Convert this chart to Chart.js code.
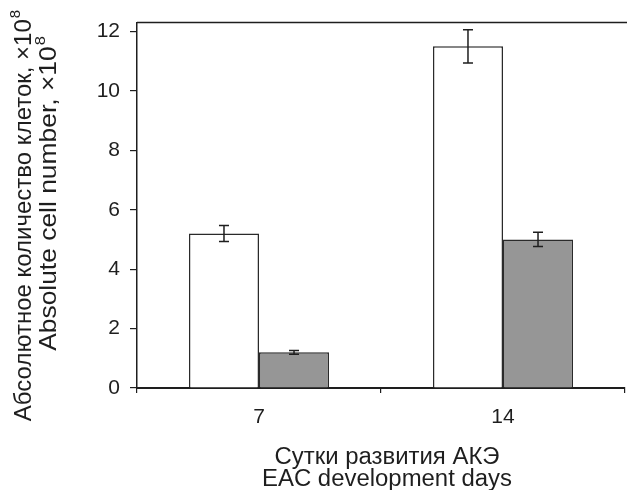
<!DOCTYPE html>
<html>
<head>
<meta charset="utf-8">
<script src="https://cdn.jsdelivr.net/npm/chart.js@4.4.1/dist/chart.umd.min.js"></script>
<style>
  html, body { margin: 0; padding: 0; background: #fff; }
  #wrap { width: 627px; height: 490px; }
</style>
</head>
<body>
<div id="wrap"><canvas id="bar-chart" width="627" height="490"></canvas></div>
<script>
const days = ['7', '14'];
const whiteValues = [5.2, 11.5];
const whiteErrors = [0.27, 0.56];
const grayValues = [1.2, 5.0];
const grayErrors = [0.06, 0.24];
const yTicks = [0, 2, 4, 6, 8, 10, 12];

const ctx = document.getElementById('bar-chart');
const FONT = '"Liberation Sans", Arial, sans-serif';
const INK = '#1e1e1e';

// text with a raised exponent, centred on (0,0) of the current transform
function drawWithExp(c, base, exp, size) {
    c.font = size + 'px ' + FONT;
    const wb = c.measureText(base).width;
    c.font = Math.round(size * 0.62) + 'px ' + FONT;
    const we = c.measureText(exp).width;
    const x0 = -(wb + we) / 2;
    c.textAlign = 'left';
    c.font = size + 'px ' + FONT;
    c.fillText(base, x0, 0);
    c.font = Math.round(size * 0.62) + 'px ' + FONT;
    c.fillText(exp, x0 + wb + 1, -size * 0.36);
}

// error bars + top frame line + the two-line axis titles
const extras = {
    id: 'extras',
    afterDatasetsDraw(chart) {
        const c = chart.ctx;
        const y = chart.scales.y;
        c.save();
        c.strokeStyle = INK;
        c.lineWidth = 1.5;
        chart.data.datasets.forEach((ds, i) => {
            chart.getDatasetMeta(i).data.forEach((bar, j) => {
                const v = ds.data[j];
                const e = ds.errors[j];
                const top = y.getPixelForValue(v + e);
                const bot = y.getPixelForValue(v - e);
                c.beginPath();
                c.moveTo(bar.x, top); c.lineTo(bar.x, bot);
                c.moveTo(bar.x - 5, top); c.lineTo(bar.x + 5, top);
                c.moveTo(bar.x - 5, bot); c.lineTo(bar.x + 5, bot);
                c.stroke();
            });
        });
        c.restore();
    },
    afterDraw(chart) {
        const c = chart.ctx;
        const area = chart.chartArea;
        c.save();
        c.strokeStyle = INK;
        c.lineWidth = 1.5;
        c.beginPath();
        c.moveTo(area.left, area.top);
        c.lineTo(chart.width, area.top);
        c.stroke();

        c.fillStyle = INK;
        c.textBaseline = 'middle';

        // y title, rotated
        const yLines = [
            { text: 'Абсолютное количество клеток, ×10', x: 24, y: 216, sx: 1.0 },
            { text: 'Absolute cell number, ×10', x: 49, y: 194, sx: 1.1 }
        ];
        yLines.forEach(l => {
            c.save();
            c.translate(l.x, l.y);
            c.rotate(-Math.PI / 2);
            c.scale(l.sx, 1);
            drawWithExp(c, l.text, '8', 24);
            c.restore();
        });

        // x title
        c.textAlign = 'center';
        c.font = '23px ' + FONT;
        const xLines = [
            { text: 'Сутки развития АКЭ', x: 387, y: 458, len: 225 },
            { text: 'EAC development days', x: 387, y: 480, len: 250 }
        ];
        xLines.forEach(l => {
            const w = c.measureText(l.text).width;
            c.save();
            c.translate(l.x, l.y);
            c.scale(l.len / w, 1);
            c.fillText(l.text, 0, 0);
            c.restore();
        });
        c.restore();
    }
};

new Chart(ctx, {
    type: 'bar',
    data: {
        labels: days,
        datasets: [{
            data: whiteValues,
            errors: whiteErrors,
            backgroundColor: '#ffffff',
            borderColor: '#2a2a2a',
            borderWidth: 1.5
        }, {
            data: grayValues,
            errors: grayErrors,
            backgroundColor: '#969696',
            borderColor: '#2a2a2a',
            borderWidth: 1.5
        }]
    },
    options: {
        responsive: false,
        animation: false,
        layout: { padding: { top: 21, right: 2, left: 0, bottom: 0 } },
        plugins: {
            legend: { display: false },
            tooltip: { enabled: false }
        },
        datasets: {
            bar: { barPercentage: 1.0, categoryPercentage: 0.574 }
        },
        scales: {
            x: {
                afterFit: (scale) => { scale.height = 102; },
                border: { display: true, color: INK, width: 2 },
                grid: { display: true, drawOnChartArea: false, drawTicks: true, tickLength: 5, color: INK, lineWidth: 1.2 },
                ticks: { color: INK, padding: 12, font: { family: FONT, size: 21 } }
            },
            y: {
                min: 0,
                max: 12.3,
                afterFit: (scale) => { scale.width = 137; },
                afterBuildTicks: (scale) => { scale.ticks = yTicks.map(v => ({ value: v })); },
                border: { display: true, color: INK, width: 1.5 },
                grid: { display: true, drawOnChartArea: false, drawTicks: true, tickLength: 7, color: INK, lineWidth: 1.2 },
                ticks: { color: INK, padding: 10, font: { family: FONT, size: 21 } }
            }
        }
    },
    plugins: [extras]
});
</script>
</body>
</html>
